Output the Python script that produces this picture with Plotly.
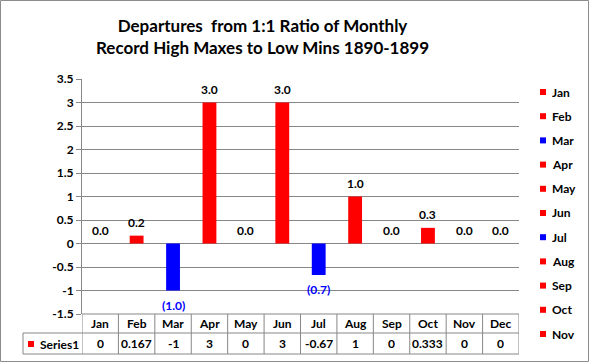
import plotly.graph_objects as go

months = ["Jan", "Feb", "Mar", "Apr", "May", "Jun", "Jul", "Aug", "Sep", "Oct", "Nov", "Dec"]
values = [0, 0.167, -1, 3, 0, 3, -0.67, 1, 0, 0.333, 0, 0]
legend_months = months[:11]  # legend is clipped at Nov in the original
ytick_vals = [-1.5, -1, -0.5, 0, 0.5, 1, 1.5, 2, 2.5, 3, 3.5]
ytick_text = ["-1.5", "-1", "-0.5", "0", "0.5", "1", "1.5", "2", "2.5", "3", "3.5"]
series_name = "Series1"
title_lines = ["Departures  from 1:1 Ratio of Monthly", "Record High Maxes to Low Mins 1890-1899"]

RED = "#FF0000"
BLUE = "#0000FF"
GRAY = "#878787"
FONT = "Lato"

W, H = 589, 362
L, R, T, B = 82, 519, 79, 314
pw, ph = R - L, B - T


def px(x):
    return (x - L) / pw


def py(y):
    return (B - y) / ph


colors = [RED if v >= 0 else BLUE for v in values]

fig = go.Figure()
fig.add_trace(go.Bar(x=months, y=values, marker=dict(color=colors, line=dict(width=0)),
                     width=0.38, showlegend=False, hoverinfo="skip"))

annotations = []
shapes = []

# data labels
for m, v in zip(months, values):
    if v >= 0:
        txt, col, shift, ya = f"{v:.1f}", "#000000", 4, "bottom"
    else:
        txt, col, shift, ya = f"({abs(v):.1f})", BLUE, -5, "top"
    annotations.append(dict(x=m, y=v, xref="x", yref="y", text=txt, showarrow=False,
                            yanchor=ya, yshift=shift,
                            font=dict(family=FONT, size=12, color=col, weight="bold")))

# data table
row1_top, row1_bot, row2_bot = B, 333, 354
tab_left = 23
shapes.append(dict(type="line", xref="paper", yref="paper", x0=0, x1=1, y0=py(row1_top), y1=py(row1_top),
                   line=dict(color=GRAY, width=1)))
for y in (row1_bot, row2_bot):
    shapes.append(dict(type="line", xref="paper", yref="paper", x0=px(tab_left), x1=1, y0=py(y), y1=py(y),
                       line=dict(color=GRAY, width=1)))
for i in range(len(months) + 1):
    shapes.append(dict(type="line", xref="x", yref="paper", x0=i - 0.5, x1=i - 0.5,
                       y0=py(row1_top), y1=py(row2_bot), line=dict(color=GRAY, width=1)))
shapes.append(dict(type="line", xref="paper", yref="paper", x0=px(tab_left), x1=px(tab_left),
                   y0=py(row1_bot), y1=py(row2_bot), line=dict(color=GRAY, width=1)))

for m, v in zip(months, values):
    annotations.append(dict(x=m, y=py((row1_top + row1_bot) / 2), xref="x", yref="paper", text=m,
                            showarrow=False, yanchor="middle",
                            font=dict(family=FONT, size=12, color="#000", weight="bold")))
    annotations.append(dict(x=m, y=py((row1_bot + row2_bot) / 2), xref="x", yref="paper", text=f"{v:g}",
                            showarrow=False, yanchor="middle",
                            font=dict(family=FONT, size=12, color="#000", weight="bold")))
# series key in table
shapes.append(dict(type="rect", xref="paper", yref="paper", x0=px(28), x1=px(34),
                   y0=py(347), y1=py(341), fillcolor=RED, line=dict(width=0)))
annotations.append(dict(x=px(38), y=py(344), xref="paper", yref="paper", text=series_name,
                        showarrow=False, xanchor="left", yanchor="middle",
                        font=dict(family=FONT, size=12, color="#000", weight="bold")))

# legend (manual)
leg_top, leg_step = 92, 24.2
for k, m in enumerate(legend_months):
    yc = leg_top + k * leg_step
    c = colors[months.index(m)]
    shapes.append(dict(type="rect", xref="paper", yref="paper", x0=px(540), x1=px(546),
                       y0=py(yc + 3), y1=py(yc - 3), fillcolor=c, line=dict(width=0)))
    annotations.append(dict(x=px(550), y=py(yc), xref="paper", yref="paper", text=m,
                            showarrow=False, xanchor="left", yanchor="middle",
                            font=dict(family=FONT, size=12, color="#000", weight="bold")))

# title
annotations.append(dict(x=px(262), y=py(37), xref="paper", yref="paper",
                        text="<br>".join(title_lines), showarrow=False,
                        xanchor="center", yanchor="middle",
                        font=dict(family=FONT, size=17, color="#000", weight="bold")))

# outer border
shapes.append(dict(type="rect", xref="paper", yref="paper", x0=px(0.5), x1=px(W - 0.5),
                   y0=py(H - 0.5), y1=py(0.5), line=dict(color="#8C8C8C", width=1), layer="above"))

fig.update_layout(
    width=W, height=H,
    margin=dict(l=L, r=W - R, t=T, b=H - B, pad=0),
    paper_bgcolor="white", plot_bgcolor="white",
    font=dict(family=FONT, size=12, color="#000"),
    annotations=annotations, shapes=shapes,
    xaxis=dict(range=[-0.5, 11.5], showticklabels=False, ticks="", showgrid=False,
               showline=False, zeroline=False),
    yaxis=dict(range=[-1.5, 3.5], tickvals=ytick_vals, ticktext=ytick_text,
               showgrid=True, gridcolor=GRAY, gridwidth=1, zeroline=False,
               showline=True, linecolor=GRAY, linewidth=1,
               ticks="outside", ticklen=5, tickcolor=GRAY,
               tickfont=dict(family=FONT, size=12, color="#000", weight="bold")),
    bargap=0.6,
)

fig.write_html("out.html", config={"displayModeBar": False},
               post_script="document.body.style.margin='0';document.body.style.overflow='hidden';")
